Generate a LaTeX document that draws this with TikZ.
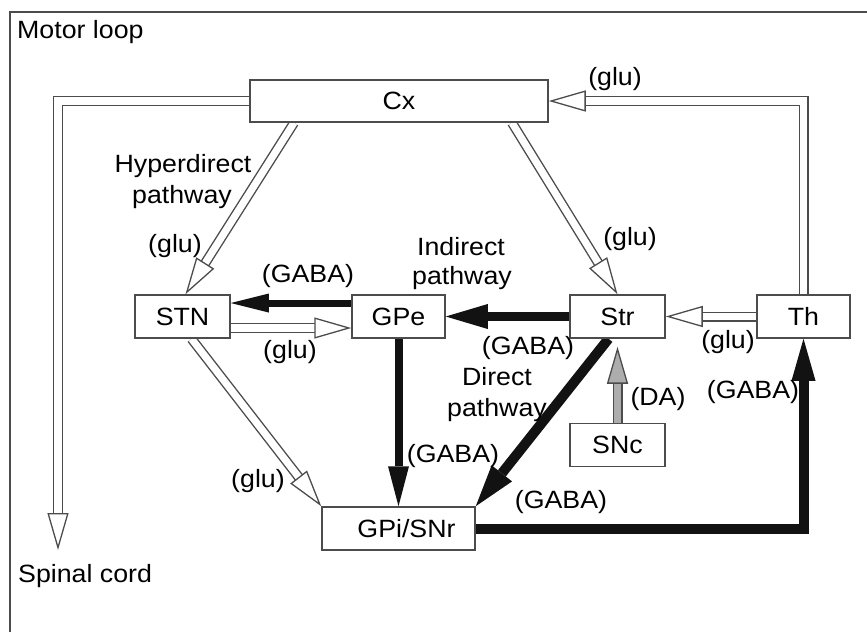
\documentclass[tikz,border=0pt]{standalone}
\usepackage{fontspec}
\setmainfont{Liberation Sans}[FakeStretch=1.07]
\usetikzlibrary{arrows.meta,backgrounds}
\definecolor{lc}{gray}{0.3}
\definecolor{ink}{gray}{0.07}
\definecolor{dafill}{gray}{0.68}
\tikzset{
  txt/.style={font=\fontsize{25}{29}\selectfont},
  box/.style={txt, draw=lc, line width=1.5pt, fill=white, minimum height=43pt, inner sep=0pt},
  lbl/.style={txt, anchor=base, inner sep=0pt},
  % inhibitory (GABA) projection: solid black shaft with a filled head
  gaba/.style n args={3}{draw=ink, line width=#1, line join=miter,
    -{Triangle[length=#2, width=#3, line width=0pt]}},
  % excitatory projection: outlined double shaft with an open head
  hollow/.style={
    preaction={draw=lc, -, line width=10pt, shorten >=35pt},
    preaction={draw=#1, -, line width=7.2pt, shorten >=35pt},
    draw=#1, line width=1pt,
    -{Triangle[length=37pt, width=21pt, line width=1.3pt, color=lc, fill=#1]}},
  hollow/.default=white
}
\begin{document}
\begin{tikzpicture}[x=1pt, y=-1pt]
\useasboundingbox (0,0) rectangle (867,632);

% frame
\draw[lc, line width=1.4pt] (10,632) -- (10,12) -- (867,12);
\node[lbl, anchor=base west] (title) at (17,38) {Motor loop};
\node[lbl, anchor=base west] (spinal) at (18,582) {Spinal cord};

% nuclei
\node[box, minimum width=298pt, minimum height=42pt] (cx) at (399,101) {Cx};
\node[box, minimum width=95pt] (stn) at (182.5,316.5) {STN};
\node[box, minimum width=93pt] (gpe) at (398.5,316.5) {GPe};
\node[box, minimum width=95pt] (str) at (617.5,316.5) {Str};
\node[box, minimum width=93pt] (th) at (803.5,316.5) {Th};
\node[box, minimum width=95pt] (snc) at (617.5,445) {SNc};
\node[box, minimum width=153pt] (gpi) at (398.5,528.5) {\hspace*{16pt}GPi/SNr};

\coordinate (cord) at (58,550);

\begin{pgfonlayer}{background}
% glutamatergic projections
\draw[hollow] (cx.west) -| (cord);
\draw[hollow] (th.north) |- (cx.east);
\draw[hollow] ([xshift=-105pt]cx.south) -- ([xshift=3pt]stn.north);
\draw[hollow] ([xshift=113pt]cx.south) -- (str.north);
\draw[hollow] ([yshift=-11.5pt]stn.east) -- ([yshift=-11.5pt]gpe.west);
\draw[hollow] (th.west) -- (str.east);
\draw[hollow] ([xshift=9pt]stn.south) -- (gpi.north west);
% dopaminergic projection
\draw[hollow=dafill] (snc.north) -- ([yshift=-8pt]str.south);
% GABAergic projections
\draw[gaba={7pt}{38pt}{19pt}] ([yshift=13.5pt]gpe.west) -- ([yshift=13.5pt]stn.east);
\draw[gaba={9pt}{42pt}{25pt}] (str.west) -- (gpe.east);
\draw[gaba={8pt}{40pt}{21pt}] (gpe.south) -- (gpi.north);
\draw[gaba={10pt}{42pt}{26pt}] ([xshift=-9pt]str.south) -- (gpi.north east);
\draw[gaba={10pt}{42pt}{24pt}] (gpi.east) -| (th.south);
\end{pgfonlayer}

% transmitter and pathway labels
\node[lbl] (l1) at (615,85) {(glu)};
\node[lbl] (l2) at (183,172) {Hyperdirect};
\node[lbl] (l3) at (182,203) {pathway};
\node[lbl] (l4) at (175,252) {(glu)};
\node[lbl] (l5) at (308,282) {(GABA)};
\node[lbl] (l6) at (290,358) {(glu)};
\node[lbl] (l7) at (461,255) {Indirect};
\node[lbl] (l8) at (462,284) {pathway};
\node[lbl] (l9) at (630,245) {(glu)};
\node[lbl] (l10) at (528,354) {(GABA)};
\node[lbl] (l11) at (728,348) {(glu)};
\node[lbl] (l12) at (497,385) {Direct};
\node[lbl] (l13) at (497,416) {pathway};
\node[lbl] (l14) at (658,405) {(DA)};
\node[lbl] (l15) at (753,398) {(GABA)};
\node[lbl] (l16) at (453,462) {(GABA)};
\node[lbl] (l17) at (258,487) {(glu)};
\node[lbl] (l18) at (561,508) {(GABA)};
\end{tikzpicture}
\end{document}
